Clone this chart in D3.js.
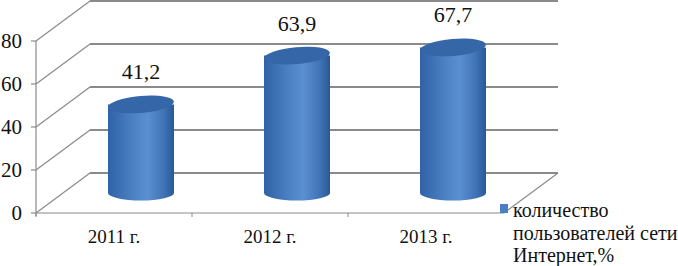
<!DOCTYPE html>
<html>
<head>
<meta charset="utf-8">
<script src="https://cdn.jsdelivr.net/npm/d3@7"></script>
<style>
  body { margin: 0; background: #fff; }
</style>
</head>
<body>
<div id="chart"></div>
<script>
'use strict';

var categories = ['2011 г.', '2012 г.', '2013 г.'];
var values = [41.2, 63.9, 67.7];
var valueLabels = ['41,2', '63,9', '67,7'];
var yTicks = [0, 20, 40, 60, 80];
var legendLines = ['количество', 'пользователей сети', 'Интернет,%'];

drawChart();

function drawChart() {
    var width = 678;
    var height = 266;
    var depthX = 54;
    var depthY = -40;
    var gridColor = '#8a8a8a';
    var serif = 'Liberation Serif';

    var svg = d3.select('#chart')
        .append('svg')
        .attr('width', width)
        .attr('height', height);

    var x = d3.scaleBand()
        .domain(categories)
        .range([36, 504]);

    var y = d3.scaleLinear()
        .domain([0, 80])
        .range([213, 41]);

    var defs = svg.append('defs');
    var grad = defs.append('linearGradient')
        .attr('id', 'body')
        .attr('x1', '0%').attr('x2', '100%')
        .attr('y1', '0%').attr('y2', '0%');
    grad.append('stop').attr('offset', '0%').attr('stop-color', '#2f62a6');
    grad.append('stop').attr('offset', '35%').attr('stop-color', '#4a7fc2');
    grad.append('stop').attr('offset', '60%').attr('stop-color', '#5a8fd2');
    grad.append('stop').attr('offset', '85%').attr('stop-color', '#3f73b6');
    grad.append('stop').attr('offset', '100%').attr('stop-color', '#2a5896');

    // back wall gridlines
    svg.append('g')
        .selectAll('line')
        .data(yTicks)
        .enter()
        .append('line')
        .attr('x1', 36 + depthX)
        .attr('x2', x.range()[1] + depthX)
        .attr('y1', function(d) { return y(d) + depthY; })
        .attr('y2', function(d) { return y(d) + depthY; })
        .attr('stroke', gridColor)
        .attr('stroke-width', 1.8);

    // side wall diagonals
    svg.append('g')
        .selectAll('line')
        .data(yTicks)
        .enter()
        .append('line')
        .attr('x1', 36)
        .attr('x2', 36 + depthX)
        .attr('y1', function(d) { return y(d); })
        .attr('y2', function(d) { return y(d) + depthY; })
        .attr('stroke', gridColor)
        .attr('stroke-width', 1.2);

    // floor: front edge and right diagonal
    svg.append('line')
        .attr('x1', 36).attr('x2', x.range()[1])
        .attr('y1', y(0)).attr('y2', y(0))
        .attr('stroke', gridColor).attr('stroke-width', 1.2);
    svg.append('line')
        .attr('x1', x.range()[1]).attr('x2', x.range()[1] + depthX)
        .attr('y1', y(0)).attr('y2', y(0) + depthY)
        .attr('stroke', gridColor).attr('stroke-width', 1.2);

    // y axis
    svg.append('line')
        .attr('x1', 36).attr('x2', 36)
        .attr('y1', y(80)).attr('y2', y(0) + 3)
        .attr('stroke', gridColor).attr('stroke-width', 1.2);

    var yt = svg.append('g').selectAll('g')
        .data(yTicks)
        .enter()
        .append('g')
        .attr('transform', function(d) { return 'translate(0,' + y(d) + ')'; });
    yt.append('line')
        .attr('x1', 31).attr('x2', 36)
        .attr('stroke', gridColor).attr('stroke-width', 1.2);
    yt.append('text')
        .attr('x', 22)
        .attr('dy', '0.35em')
        .attr('text-anchor', 'end')
        .attr('fill', '#111')
        .attr('font-family', serif)
        .attr('font-size', 21)
        .text(function(d) { return d; });

    // category ticks
    svg.append('g').selectAll('line')
        .data(categories)
        .enter()
        .append('line')
        .attr('x1', function(d) { return x(d); })
        .attr('x2', function(d) { return x(d); })
        .attr('y1', y(0)).attr('y2', y(0) + 4)
        .attr('stroke', gridColor).attr('stroke-width', 1);

    svg.append('g').selectAll('text')
        .data(categories)
        .enter()
        .append('text')
        .attr('x', function(d) { return x(d) + x.bandwidth() / 2; })
        .attr('y', 243)
        .attr('text-anchor', 'middle')
        .attr('fill', '#111')
        .attr('font-family', serif)
        .attr('font-size', 19)
        .text(function(d) { return d; });

    // cylinders
    var rx = 33;
    var ry = 8.5;
    var cyl = svg.append('g').selectAll('g')
        .data(values)
        .enter()
        .append('g')
        .attr('transform', function(d, i) {
            return 'translate(' + (x(categories[i]) + x.bandwidth() / 2 + depthX / 2) + ',0)';
        });

    cyl.append('path')
        .attr('fill', 'url(#body)')
        .attr('d', function(d) {
            var top = y(d) + depthY / 2;
            var bot = y(0) + depthY / 2;
            return 'M' + (-rx) + ',' + top +
                ' L' + (-rx) + ',' + bot +
                ' A' + rx + ',' + (ry - 1) + ' 0 0 0 ' + rx + ',' + bot +
                ' L' + rx + ',' + top + ' Z';
        });

    cyl.append('ellipse')
        .attr('cx', 0)
        .attr('cy', function(d) { return y(d) + depthY / 2; })
        .attr('rx', rx)
        .attr('ry', ry)
        .attr('fill', '#3566a8')
        .attr('transform', function(d) { return 'rotate(-5,0,' + (y(d) + depthY / 2) + ')'; });

    cyl.append('text')
        .attr('x', 0)
        .attr('y', function(d) { return y(d) + depthY / 2 - 25; })
        .attr('text-anchor', 'middle')
        .attr('fill', '#111')
        .attr('font-family', serif)
        .attr('font-size', 22)
        .text(function(d, i) { return valueLabels[i]; });

    // legend
    svg.append('rect')
        .attr('x', 500).attr('y', 204)
        .attr('width', 8).attr('height', 9)
        .attr('fill', '#4a7fc2');
    svg.append('g').selectAll('text')
        .data(legendLines)
        .enter()
        .append('text')
        .attr('x', 513)
        .attr('y', function(d, i) { return 217 + i * 22.5; })
        .attr('fill', '#111')
        .attr('font-family', serif)
        .attr('font-size', 20)
        .text(function(d) { return d; });
}
</script>
</body>
</html>
